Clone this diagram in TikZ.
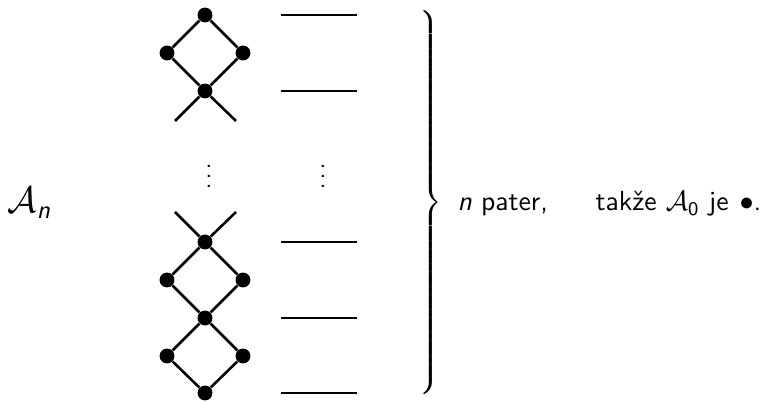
\documentclass[tikz,border=0pt]{standalone}
\usepackage{amsmath}
\usepackage{fontspec}
\renewcommand{\familydefault}{\sfdefault}
\begin{document}
\begin{tikzpicture}[x=0.390625pt, y=-0.390625pt,
  vtx/.style={circle, fill=black, inner sep=0pt, minimum size=5.8pt},
  edge/.style={line width=1pt},
  rung/.style={line width=0.5pt},
  txt/.style={inner sep=0pt, font=\sffamily},
  captxt/.style={txt, anchor=base west, font=\sffamily\fontsize{10.8}{13}\selectfont}]
\useasboundingbox (0,0) rectangle (763,402);

% upper diamond with its crossing stub
\node[vtx] (t1) at (205,15) {};
\node[vtx] (l1) at (167,53) {};
\node[vtx] (r1) at (243,53) {};
\node[vtx] (m1) at (205,91) {};
\coordinate (xa1) at (175,121);
\coordinate (xb1) at (236,121);
\draw[edge] (t1) -- (l1) -- (m1) -- (r1) -- (t1);
\draw[edge] (m1) -- (xa1);
\draw[edge] (m1) -- (xb1);

% lower chain of two diamonds
\coordinate (xa2) at (175,212);
\coordinate (xb2) at (236,212);
\node[vtx] (m2) at (205,242) {};
\node[vtx] (l2) at (167,280) {};
\node[vtx] (r2) at (243,280) {};
\node[vtx] (m3) at (205,318) {};
\node[vtx] (l3) at (167,356) {};
\node[vtx] (r3) at (243,356) {};
\node[vtx] (b3) at (205,393) {};
\draw[edge] (xa2) -- (m2);
\draw[edge] (xb2) -- (m2);
\draw[edge] (m2) -- (l2) -- (m3) -- (r2) -- (m2);
\draw[edge] (m3) -- (l3) -- (b3) -- (r3) -- (m3);

% level rungs
\foreach \i/\y in {1/15,2/91,3/242,4/318,5/393}{
  \coordinate (ha\i) at (281,\y);
  \coordinate (hb\i) at (357,\y);
  \draw[rung] (ha\i) -- (hb\i);
}

% ellipses
\node[txt] (vd1) at (209,169) {$\vdots$};
\node[txt] (vd2) at (323,169) {$\vdots$};

% label on the left
\node[txt, anchor=base west] (an) at (7,213) {\Large$\mathcal{A}_{\textit{n}}$};

% brace
\node[inner sep=0pt] (br) at (429,203) {$\left.\vcenter{\hbox{\rule{0pt}{152pt}}}\right\}$};

% caption on the right
\node[captxt] (cap1) at (457,211) {\textit{n} pater,};
\node[captxt] (cap2) at (595,211) {takže $\mathcal{A}_{\textsf{0}}$ je};
\node[captxt] (cap3) at (739,211) {$\bullet$.};
\end{tikzpicture}
\end{document}
